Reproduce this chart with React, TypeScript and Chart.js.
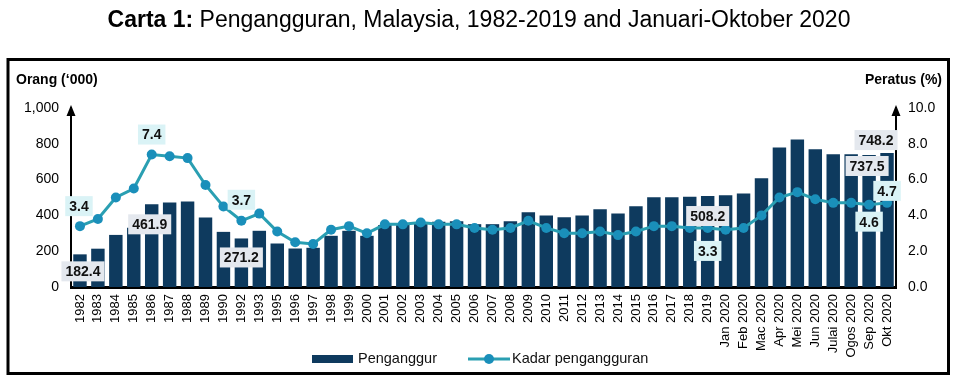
import React, { useEffect, useRef } from 'react';
import { Chart, registerables } from 'chart.js';

Chart.register(...registerables);

const FONT = '"Liberation Sans", Arial, sans-serif';

const categories = [
  '1982', '1983', '1984', '1985', '1986', '1987', '1988', '1989', '1990', '1992', '1993',
  '1995', '1996', '1997', '1998', '1999', '2000', '2001', '2002', '2003', '2004', '2005',
  '2006', '2007', '2008', '2009', '2010', '2011', '2012', '2013', '2014', '2015', '2016',
  '2017', '2018', '2019',
  'Jan 2020', 'Feb 2020', 'Mac 2020', 'Apr 2020', 'Mei 2020', 'Jun 2020', 'Julai 2020',
  'Ogos 2020', 'Sep 2020', 'Okt 2020',
];

const penganggur = [
  182.4, 214, 291, 331, 461.9, 472, 478, 388, 308, 271.2, 314,
  243, 215, 219, 286, 314, 286, 346, 350, 361, 364, 368,
  351, 351, 368, 418, 400, 389, 400, 434, 411, 451, 502,
  502, 504, 508.2,
  512, 523, 608, 780, 824, 770, 742, 741, 737.5, 748.2,
];

const kadarPengangguran = [
  3.4, 3.8, 5.0, 5.5, 7.4, 7.3, 7.2, 5.7, 4.5, 3.7, 4.1,
  3.1, 2.5, 2.4, 3.2, 3.4, 3.0, 3.5, 3.5, 3.6, 3.5, 3.5,
  3.3, 3.2, 3.3, 3.7, 3.3, 3.0, 3.0, 3.1, 2.9, 3.1, 3.4,
  3.4, 3.3, 3.3,
  3.2, 3.3, 4.0, 5.0, 5.3, 4.9, 4.7, 4.7, 4.6, 4.7,
];

const leftAxisMax = 1000;
const leftAxisStep = 200;
const rightAxisMax = 10;
const rightAxisStep = 2;

const titleBold = 'Carta 1:';
const titleRest = ' Pengangguran, Malaysia, 1982-2019 and Januari-Oktober 2020';
const leftAxisTitle = 'Orang (\u2018000)';
const rightAxisTitle = 'Peratus (%)';
const seriesBarName = 'Penganggur';
const seriesLineName = 'Kadar pengangguran';

const labelledBars = [0, 4, 9, 35, 44, 45];
const labelledRates = [0, 4, 9, 35, 44, 45];

// layout of the value boxes (pixel shifts from the mark), not data
const barLabelShift: Record<number, [number, number]> = {
  0: [3, 17], 4: [-2, 20], 9: [0, 19], 35: [0, 20], 44: [-2, 11], 45: [-11, -13],
};
const rateLabelShift: Record<number, [number, number]> = {
  0: [-1, -20], 4: [0, -20], 9: [0, -21], 35: [0, 23], 44: [0, 17], 45: [0, -12],
};

const BAR_COLOR = '#0e3a5e';
const LINE_COLOR = '#2a9fb2';
const POINT_COLOR = '#1a8fba';

function drawBox(ctx: CanvasRenderingContext2D, text: string, cx: number, cy: number, bg: string) {
  ctx.font = `bold 14px ${FONT}`;
  const w = ctx.measureText(text).width + 8;
  const h = 20;
  ctx.fillStyle = bg;
  ctx.fillRect(cx - w / 2, cy - h / 2, w, h);
  ctx.fillStyle = '#111';
  ctx.textAlign = 'center';
  ctx.textBaseline = 'middle';
  ctx.fillText(text, cx, cy + 1);
}

const decorPlugin = {
  id: 'decor',
  beforeDraw(chart: any) {
    const ctx = chart.ctx as CanvasRenderingContext2D;
    ctx.save();
    ctx.fillStyle = '#fff';
    ctx.fillRect(0, 0, chart.width, chart.height);
    ctx.restore();
  },
  afterDatasetsDraw(chart: any) {
    const ctx = chart.ctx as CanvasRenderingContext2D;
    ctx.save();
    const lineMeta = chart.getDatasetMeta(0);
    const barMeta = chart.getDatasetMeta(1);
    labelledBars.forEach((i) => {
      const el = barMeta.data[i];
      const [dx, dy] = barLabelShift[i] || [0, 18];
      drawBox(ctx, penganggur[i].toFixed(1), el.x + dx, el.y + dy, '#e4e8ee');
    });
    labelledRates.forEach((i) => {
      const el = lineMeta.data[i];
      const [dx, dy] = rateLabelShift[i] || [0, -20];
      drawBox(ctx, kadarPengangguran[i].toFixed(1), el.x + dx, el.y + dy, '#daf3f6');
    });
    ctx.restore();
  },
  afterDraw(chart: any) {
    const ctx = chart.ctx as CanvasRenderingContext2D;
    const area = chart.chartArea;
    ctx.save();
    // title
    ctx.textBaseline = 'middle';
    ctx.fillStyle = '#000';
    ctx.font = `bold 23px ${FONT}`;
    const wb = ctx.measureText(titleBold).width;
    ctx.font = `23px ${FONT}`;
    const wr = ctx.measureText(titleRest).width;
    const x0 = chart.width / 2 - (wb + wr) / 2;
    ctx.textAlign = 'left';
    ctx.font = `bold 23px ${FONT}`;
    ctx.fillText(titleBold, x0, 21);
    ctx.font = `23px ${FONT}`;
    ctx.fillText(titleRest, x0 + wb, 21);

    // frame
    ctx.strokeStyle = '#000';
    ctx.lineWidth = 3;
    ctx.strokeRect(8, 59.5, 940.5, 314);

    // axis titles
    ctx.font = `bold 14px ${FONT}`;
    ctx.textAlign = 'left';
    ctx.fillText(leftAxisTitle, 16, 80);
    ctx.textAlign = 'right';
    ctx.fillText(rightAxisTitle, 942, 80);

    // arrows
    ctx.fillStyle = '#000';
    [area.left, area.right].forEach((x) => {
      ctx.beginPath();
      ctx.moveTo(x, area.top - 3);
      ctx.lineTo(x - 4.5, area.top + 8);
      ctx.lineTo(x + 4.5, area.top + 8);
      ctx.closePath();
      ctx.fill();
    });

    // legend
    const ly = 359;
    ctx.fillStyle = BAR_COLOR;
    ctx.fillRect(312, ly - 4, 41, 8);
    ctx.font = `14.5px ${FONT}`;
    ctx.fillStyle = '#111';
    ctx.textAlign = 'left';
    ctx.textBaseline = 'middle';
    ctx.fillText(chart.data.datasets[1].label, 358, ly);
    ctx.strokeStyle = LINE_COLOR;
    ctx.lineWidth = 3;
    ctx.beginPath();
    ctx.moveTo(468, ly);
    ctx.lineTo(510, ly);
    ctx.stroke();
    ctx.fillStyle = POINT_COLOR;
    ctx.beginPath();
    ctx.arc(489, ly, 5, 0, Math.PI * 2);
    ctx.fill();
    ctx.fillStyle = '#111';
    ctx.fillText(chart.data.datasets[0].label, 512, ly);
    ctx.restore();
  },
};

export default function App() {
  const ref = useRef<HTMLCanvasElement | null>(null);
  useEffect(() => {
    if (!ref.current) return;
    Chart.defaults.font.family = FONT;
    const chart = new Chart(ref.current, {
      type: 'bar',
      data: {
        labels: categories,
        datasets: [
          {
            type: 'line',
            label: seriesLineName,
            data: kadarPengangguran,
            yAxisID: 'y1',
            borderColor: LINE_COLOR,
            borderWidth: 3,
            pointRadius: 5,
            pointBackgroundColor: POINT_COLOR,
            pointBorderWidth: 0,
            tension: 0,
            order: 0,
          },
          {
            type: 'bar',
            label: seriesBarName,
            data: penganggur,
            yAxisID: 'y',
            backgroundColor: BAR_COLOR,
            categoryPercentage: 1,
            barPercentage: 0.75,
            order: 1,
          },
        ],
      } as any,
      options: {
        animation: false,
        responsive: true,
        maintainAspectRatio: false,
        layout: { padding: { top: 108, left: 0, right: 0, bottom: 0 } },
        plugins: {
          legend: { display: false },
          tooltip: { enabled: false },
          title: { display: false },
        },
        scales: {
          x: {
            offset: true,
            grid: { display: false, drawTicks: false },
            border: { display: true, color: '#000', width: 3 },
            ticks: {
              autoSkip: false,
              minRotation: 90,
              maxRotation: 90,
              padding: 7,
              color: '#000',
              font: { size: 13, family: FONT },
            },
            afterFit: (s: any) => { s.height = 94; },
          },
          y: {
            position: 'left',
            min: 0,
            max: leftAxisMax,
            grid: { display: false, drawTicks: false },
            border: { display: true, color: '#000', width: 2 },
            ticks: {
              stepSize: leftAxisStep,
              padding: 12,
              color: '#000',
              font: { size: 14, family: FONT },
              callback: (v: any) => Number(v).toLocaleString('en-US'),
            },
            afterFit: (s: any) => { s.width = 71; },
          },
          y1: {
            position: 'right',
            min: 0,
            max: rightAxisMax,
            grid: { display: false, drawTicks: false },
            border: { display: true, color: '#000', width: 2 },
            ticks: {
              stepSize: rightAxisStep,
              padding: 12,
              color: '#000',
              font: { size: 14, family: FONT },
              callback: (v: any) => Number(v).toFixed(1),
            },
            afterFit: (s: any) => { s.width = 62; },
          },
        },
      } as any,
      plugins: [decorPlugin],
    });
    return () => chart.destroy();
  }, []);

  return (
    <div style={{ position: 'absolute', left: 0, top: 0, width: 958, height: 381, background: '#fff' }}>
      <canvas ref={ref} />
    </div>
  );
}
